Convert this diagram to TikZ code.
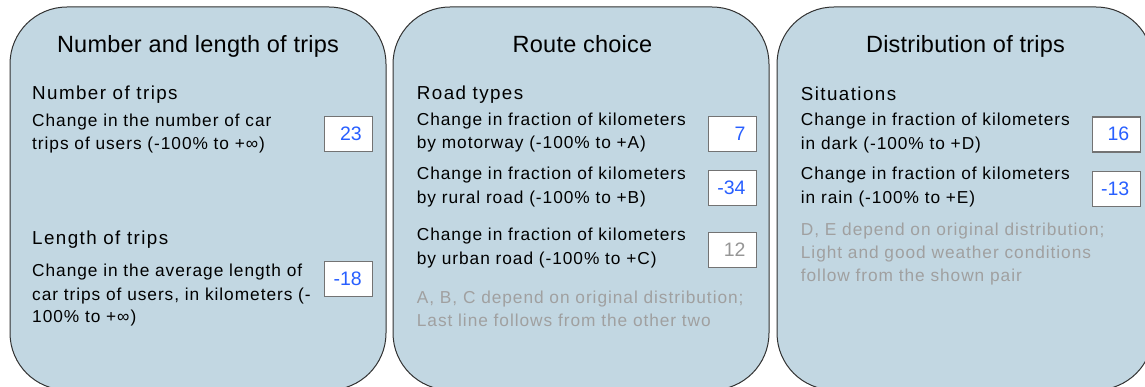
\documentclass[tikz,border=0pt]{standalone}
\usepackage{fontspec}
\setmainfont{Liberation Sans}
\newfontfamily\bodyf[LetterSpace=5.5]{Liberation Sans}
\newfontfamily\subf[LetterSpace=7.5]{Liberation Sans}
\newfontfamily\titf[LetterSpace=1]{Liberation Sans}
\definecolor{panelblue}{RGB}{194,215,226}
\definecolor{paneledge}{RGB}{50,50,50}
\definecolor{boxgray}{RGB}{115,115,115}
\definecolor{numblue}{RGB}{40,95,255}
\definecolor{notegray}{RGB}{160,160,160}
\definecolor{numgray}{RGB}{150,150,150}
\tikzset{
  panel/.style={draw=paneledge, line width=1pt, fill=panelblue, rounded corners=57pt},
  valbox/.style={draw=boxgray, line width=1.2pt, fill=white, minimum width=48pt, minimum height=35pt, inner sep=0, anchor=north west},
  ttl/.style={font=\titf\fontsize{23.5}{28}\selectfont, anchor=base, inner sep=0},
  subh/.style={font=\subf\fontsize{18.8}{22}\selectfont, anchor=base west, inner sep=0},
  body/.style={font=\bodyf\fontsize{17.3}{23}\selectfont, anchor=base west, inner sep=0},
  note/.style={body, text=notegray},
  num/.style={font=\fontsize{19.5}{23}\selectfont, anchor=base east, inner sep=0, text=numblue},
  numg/.style={num, text=numgray}
}
\begin{document}
\begin{tikzpicture}[x=1pt,y=-1pt]
\useasboundingbox (0,0) rectangle (1145,387);
\clip (0,0) rectangle (1145,387);
% panels
\draw[panel] (10,7) rectangle (386,390);
\draw[panel] (393,7) rectangle (769,390);
\draw[panel] (777,7) rectangle (1153,390);
% ---- left panel
\node[ttl] (t1) at (198,52.7) {Number and length of trips};
\node[subh] (s1) at (32,100) {Number of trips};
\node[body] (l1a) at (32,126.7) {Change in the number of car};
\node[body] (l1b) at (32,149.3) {trips of users (-100\% to +∞)};
\node[valbox] (b1) at (324,116) {};
\node[num] (v1) at (362,140.7) {23};
\node[subh] (s2) at (32,245) {Length of trips};
\node[body] (l2a) at (32,276.7) {Change in the average length of};
\node[body] (l2b) at (32,300) {car trips of users, in kilometers (-};
\node[body] (l2c) at (32,322.7) {100\% to +∞)};
\node[valbox] (b2) at (324,260.7) {};
\node[num] (v2) at (362,285.3) {-18};
% ---- middle panel
\node[ttl] (t2) at (582.5,52.2) {Route choice};
\node[subh] (s3) at (416.7,100) {Road types};
\node[body] (m1a) at (416.7,125.7) {Change in fraction of kilometers};
\node[body] (m1b) at (416.7,149) {by motorway (-100\% to +A)};
\node[valbox] (b3) at (707.7,115.7) {};
\node[num] (v3) at (745.7,140.3) {7};
\node[body] (m2a) at (416.7,180) {Change in fraction of kilometers};
\node[body] (m2b) at (416.7,203.3) {by rural road (-100\% to +B)};
\node[valbox] (b4) at (707.7,170.3) {};
\node[num] (v4) at (745.7,194.8) {-34};
\node[body] (m3a) at (416.7,241) {Change in fraction of kilometers};
\node[body] (m3b) at (416.7,265) {by urban road (-100\% to +C)};
\node[valbox] (b5) at (707.7,231.7) {};
\node[numg] (v5) at (745.7,256.2) {12};
\node[note] (n1a) at (416.7,303.3) {A, B, C depend on original distribution;};
\node[note] (n1b) at (416.7,326) {Last line follows from the other two};
% ---- right panel
\node[ttl] (t3) at (965.5,52.7) {Distribution of trips};
\node[subh] (s4) at (800.7,100.5) {Situations};
\node[body] (r1a) at (800.7,126) {Change in fraction of kilometers};
\node[body] (r1b) at (800.7,149.3) {in dark (-100\% to +D)};
\node[valbox] (b6) at (1091.5,116.5) {};
\node[num] (v6) at (1129.5,141) {16};
\node[body] (r2a) at (800.7,180) {Change in fraction of kilometers};
\node[body] (r2b) at (800.7,203.3) {in rain (-100\% to +E)};
\node[valbox] (b7) at (1091.5,170.7) {};
\node[num] (v7) at (1129.5,195.3) {-13};
\node[note] (n2a) at (800.7,235.7) {D, E depend on original distribution;};
\node[note] (n2b) at (800.7,258.3) {Light and good weather conditions};
\node[note] (n2c) at (800.7,281.7) {follow from the shown pair};
\end{tikzpicture}
\end{document}
